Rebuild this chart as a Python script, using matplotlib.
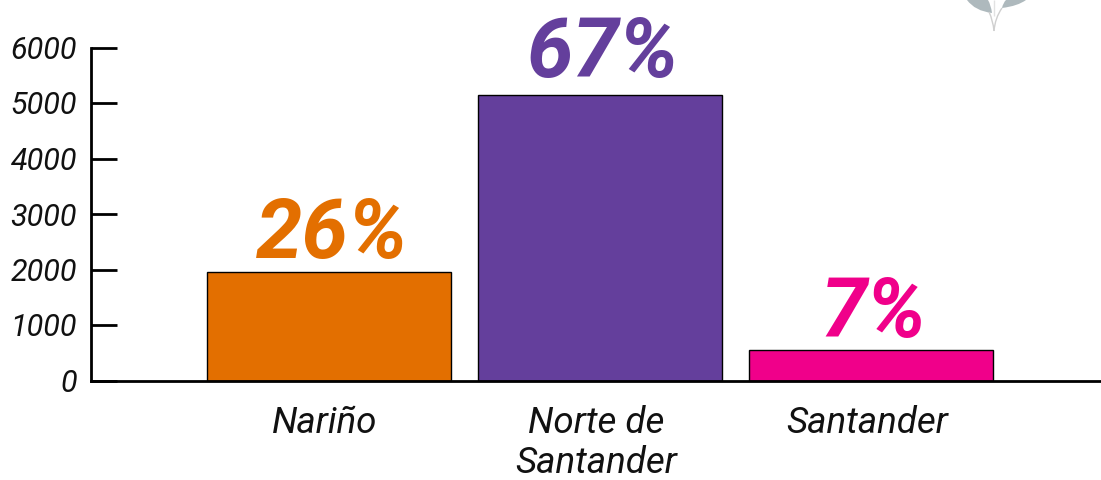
import matplotlib
matplotlib.use("Agg")
import matplotlib.pyplot as plt
from matplotlib.patches import PathPatch
from matplotlib.path import Path
from matplotlib.transforms import ScaledTranslation

categories = ["Nariño", "Norte de\nSantander", "Santander"]
values = [1950, 5150, 550]
labels = ["26%", "67%", "7%"]
colors = ["#E36F00", "#643F9C", "#F0008A"]
yticks = [0, 1000, 2000, 3000, 4000, 5000, 6000]

plt.rcParams['font.family'] = ['Roboto', 'DejaVu Sans']

fig = plt.figure(figsize=(11.01, 4.8), dpi=100)
ax = fig.add_axes([91/1101, 1-380.5/480, 1-91/1101, (380.5-47.5)/480])
x = [0, 1, 2]
ax.bar(x, values, width=0.9, color=colors, edgecolor="black", linewidth=1)
ax.set_xlim(-0.878, 2.849)
ax.set_ylim(0, 6000)
ax.set_yticks(yticks)
ax.set_yticklabels([str(v) for v in yticks], fontsize=22, style="italic", color="#111111")
ax.set_xticks(x)
ax.set_xticklabels(categories, fontsize=26.5, style="italic", color="#111111", linespacing=1.14)
ax.tick_params(axis="y", direction="in", length=19, width=2, pad=10, color="black")
ax.tick_params(axis="x", length=0, pad=17.5)
shift = ScaledTranslation(-4/100, 0, fig.dpi_scale_trans)
for t in ax.get_xticklabels():
    t.set_transform(t.get_transform() + shift)
for s in ["top", "right"]:
    ax.spines[s].set_visible(False)
ax.spines["left"].set_linewidth(2)
ax.spines["bottom"].set_linewidth(2)
for xi, v, l, c, dy in zip(x, values, labels, colors, [10.5, 12.5, 9]):
    ax.annotate(l, (xi, v), xytext=(2, dy), textcoords="offset points", ha="center", va="baseline",
                fontsize=60, fontweight="bold", style="italic", color=c, annotation_clip=False)

ov = fig.add_axes([0, 0, 1, 1])
ov.axis("off")
ov.set_xlim(0, 1101)
ov.set_ylim(480, 0)
C3 = Path.CURVE3
M, L = Path.MOVETO, Path.LINETO
ov.add_patch(PathPatch(Path([(967, 0), (975, 11), (992, 13), (991, 5), (988, 0), (967, 0)],
                            [M, C3, C3, C3, C3, L]), fc="#AEB9BD", ec="none"))
ov.add_patch(PathPatch(Path([(1026, 0), (1018, 6), (1002, 8), (1003, 3), (1006, 0), (1026, 0)],
                            [M, C3, C3, C3, C3, L]), fc="#AEB9BD", ec="none"))
ov.add_patch(PathPatch(Path([(994, 31), (993, 20), (989, 12)], [M, C3, C3]), fc="none", ec="#CFCFCF", lw=1))
ov.add_patch(PathPatch(Path([(994, 31), (995, 18), (1002, 8)], [M, C3, C3]), fc="none", ec="#CFCFCF", lw=1))
ov.add_patch(PathPatch(Path([(994, 0), (994, 16)], [M, L]), fc="none", ec="#E2E2E2", lw=1))
fig.savefig("out.png", dpi=100)
